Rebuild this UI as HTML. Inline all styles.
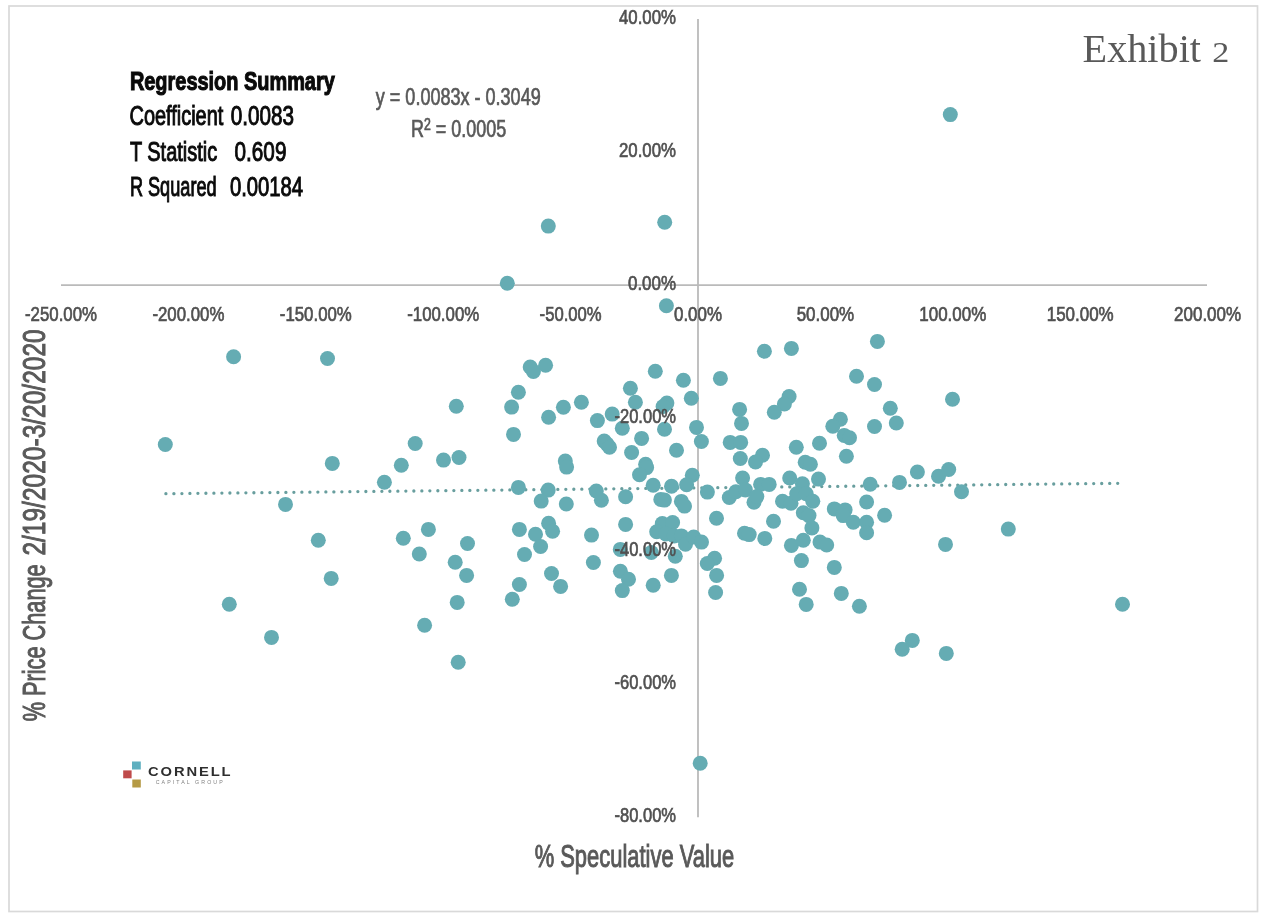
<!DOCTYPE html>
<html lang="en"><head><meta charset="utf-8"><title>Exhibit 2</title>
<style>html,body{margin:0;padding:0;background:#fff}body{width:1265px;height:922px;overflow:hidden}svg{display:block}text{font-family:"Liberation Sans",sans-serif}.ser{font-family:"Liberation Serif",serif}</style>
</head><body>
<svg width="1265" height="922" viewBox="0 0 1265 922">
<rect x="0" y="0" width="1265" height="922" fill="#fff"/>
<rect x="9" y="6" width="1248.5" height="905.5" fill="none" stroke="#d9d9d9" stroke-width="1.7"/>
<g stroke="#bababa" stroke-width="1.8" fill="none">
<line x1="61" y1="285.05" x2="1207" y2="285.05"/>
<line x1="698.0" y1="19" x2="698.0" y2="817.3"/>
</g>
<line x1="165.9" y1="493.7" x2="1117.8" y2="483.3" stroke="#689e9e" stroke-width="3.3" stroke-linecap="round" stroke-dasharray="0.01 7.9888"/>
<g fill="#65acb3">
<circle cx="507.3" cy="283.3" r="7.5"/>
<circle cx="548.3" cy="226.1" r="7.5"/>
<circle cx="664.7" cy="222.3" r="7.5"/>
<circle cx="666.4" cy="305.7" r="7.5"/>
<circle cx="950.3" cy="114.6" r="7.5"/>
<circle cx="233.6" cy="356.7" r="7.5"/>
<circle cx="327.5" cy="358.5" r="7.5"/>
<circle cx="456.3" cy="406.2" r="7.5"/>
<circle cx="165.3" cy="444.5" r="7.5"/>
<circle cx="415.2" cy="443.5" r="7.5"/>
<circle cx="332.3" cy="463.4" r="7.5"/>
<circle cx="401.3" cy="465.2" r="7.5"/>
<circle cx="443.5" cy="460.1" r="7.5"/>
<circle cx="459.0" cy="457.5" r="7.5"/>
<circle cx="384.4" cy="482.2" r="7.5"/>
<circle cx="285.5" cy="504.4" r="7.5"/>
<circle cx="428.4" cy="529.4" r="7.5"/>
<circle cx="318.3" cy="540.3" r="7.5"/>
<circle cx="403.3" cy="538.3" r="7.5"/>
<circle cx="419.3" cy="554.0" r="7.5"/>
<circle cx="455.2" cy="562.3" r="7.5"/>
<circle cx="466.6" cy="575.4" r="7.5"/>
<circle cx="331.2" cy="578.4" r="7.5"/>
<circle cx="229.3" cy="604.2" r="7.5"/>
<circle cx="457.2" cy="602.4" r="7.5"/>
<circle cx="424.6" cy="625.2" r="7.5"/>
<circle cx="271.5" cy="637.4" r="7.5"/>
<circle cx="458.2" cy="662.2" r="7.5"/>
<circle cx="467.5" cy="543.5" r="7.5"/>
<circle cx="530.2" cy="367.0" r="7.5"/>
<circle cx="533.4" cy="371.4" r="7.5"/>
<circle cx="545.6" cy="365.3" r="7.5"/>
<circle cx="518.4" cy="392.3" r="7.5"/>
<circle cx="511.6" cy="407.1" r="7.5"/>
<circle cx="513.5" cy="434.4" r="7.5"/>
<circle cx="548.6" cy="417.3" r="7.5"/>
<circle cx="563.4" cy="407.3" r="7.5"/>
<circle cx="581.4" cy="402.3" r="7.5"/>
<circle cx="655.3" cy="371.2" r="7.5"/>
<circle cx="683.4" cy="380.3" r="7.5"/>
<circle cx="630.4" cy="388.3" r="7.5"/>
<circle cx="635.4" cy="402.3" r="7.5"/>
<circle cx="666.9" cy="403.1" r="7.5"/>
<circle cx="663.1" cy="406.5" r="7.5"/>
<circle cx="612.2" cy="414.1" r="7.5"/>
<circle cx="597.4" cy="420.6" r="7.5"/>
<circle cx="622.3" cy="428.3" r="7.5"/>
<circle cx="664.5" cy="429.2" r="7.5"/>
<circle cx="641.6" cy="438.4" r="7.5"/>
<circle cx="604.2" cy="441.1" r="7.5"/>
<circle cx="607.0" cy="444.0" r="7.5"/>
<circle cx="609.5" cy="447.3" r="7.5"/>
<circle cx="631.6" cy="452.5" r="7.5"/>
<circle cx="676.5" cy="450.2" r="7.5"/>
<circle cx="565.3" cy="461.0" r="7.5"/>
<circle cx="566.6" cy="467.1" r="7.5"/>
<circle cx="645.6" cy="464.2" r="7.5"/>
<circle cx="646.6" cy="467.6" r="7.5"/>
<circle cx="639.5" cy="474.7" r="7.5"/>
<circle cx="518.4" cy="487.4" r="7.5"/>
<circle cx="548.2" cy="490.1" r="7.5"/>
<circle cx="541.2" cy="501.1" r="7.5"/>
<circle cx="566.3" cy="504.0" r="7.5"/>
<circle cx="596.3" cy="491.0" r="7.5"/>
<circle cx="601.4" cy="500.2" r="7.5"/>
<circle cx="625.6" cy="496.7" r="7.5"/>
<circle cx="653.2" cy="485.3" r="7.5"/>
<circle cx="671.5" cy="486.2" r="7.5"/>
<circle cx="660.8" cy="499.4" r="7.5"/>
<circle cx="664.4" cy="500.1" r="7.5"/>
<circle cx="681.4" cy="501.4" r="7.5"/>
<circle cx="684.5" cy="506.1" r="7.5"/>
<circle cx="519.4" cy="529.4" r="7.5"/>
<circle cx="535.5" cy="534.2" r="7.5"/>
<circle cx="540.6" cy="546.5" r="7.5"/>
<circle cx="524.5" cy="554.5" r="7.5"/>
<circle cx="548.6" cy="523.2" r="7.5"/>
<circle cx="552.6" cy="531.3" r="7.5"/>
<circle cx="591.5" cy="535.1" r="7.5"/>
<circle cx="625.6" cy="524.4" r="7.5"/>
<circle cx="593.4" cy="562.5" r="7.5"/>
<circle cx="551.5" cy="573.5" r="7.5"/>
<circle cx="560.6" cy="586.4" r="7.5"/>
<circle cx="519.4" cy="584.5" r="7.5"/>
<circle cx="512.3" cy="599.3" r="7.5"/>
<circle cx="620.4" cy="571.2" r="7.5"/>
<circle cx="628.5" cy="579.2" r="7.5"/>
<circle cx="622.3" cy="590.6" r="7.5"/>
<circle cx="653.2" cy="585.2" r="7.5"/>
<circle cx="671.4" cy="575.4" r="7.5"/>
<circle cx="675.3" cy="556.2" r="7.5"/>
<circle cx="620.3" cy="549.4" r="7.5"/>
<circle cx="651.3" cy="552.5" r="7.5"/>
<circle cx="662.3" cy="523.6" r="7.5"/>
<circle cx="672.6" cy="522.5" r="7.5"/>
<circle cx="656.7" cy="531.8" r="7.5"/>
<circle cx="665.9" cy="533.9" r="7.5"/>
<circle cx="674.2" cy="535.9" r="7.5"/>
<circle cx="681.4" cy="535.9" r="7.5"/>
<circle cx="685.5" cy="544.2" r="7.5"/>
<circle cx="693.7" cy="537.0" r="7.5"/>
<circle cx="701.5" cy="542.1" r="7.5"/>
<circle cx="691.3" cy="398.3" r="7.5"/>
<circle cx="696.5" cy="427.4" r="7.5"/>
<circle cx="701.4" cy="441.5" r="7.5"/>
<circle cx="720.4" cy="378.4" r="7.5"/>
<circle cx="764.4" cy="351.3" r="7.5"/>
<circle cx="791.4" cy="348.4" r="7.5"/>
<circle cx="877.4" cy="341.4" r="7.5"/>
<circle cx="856.5" cy="376.3" r="7.5"/>
<circle cx="874.5" cy="384.5" r="7.5"/>
<circle cx="890.3" cy="408.2" r="7.5"/>
<circle cx="896.3" cy="423.0" r="7.5"/>
<circle cx="874.5" cy="426.5" r="7.5"/>
<circle cx="789.1" cy="396.5" r="7.5"/>
<circle cx="784.4" cy="404.0" r="7.5"/>
<circle cx="774.3" cy="412.2" r="7.5"/>
<circle cx="739.6" cy="409.4" r="7.5"/>
<circle cx="741.5" cy="423.4" r="7.5"/>
<circle cx="730.2" cy="442.4" r="7.5"/>
<circle cx="740.7" cy="442.4" r="7.5"/>
<circle cx="740.3" cy="458.5" r="7.5"/>
<circle cx="762.5" cy="455.3" r="7.5"/>
<circle cx="755.5" cy="462.0" r="7.5"/>
<circle cx="796.3" cy="447.3" r="7.5"/>
<circle cx="819.5" cy="443.3" r="7.5"/>
<circle cx="840.4" cy="419.2" r="7.5"/>
<circle cx="832.8" cy="426.3" r="7.5"/>
<circle cx="844.2" cy="435.4" r="7.5"/>
<circle cx="849.5" cy="437.7" r="7.5"/>
<circle cx="846.4" cy="456.3" r="7.5"/>
<circle cx="805.2" cy="462.3" r="7.5"/>
<circle cx="810.4" cy="464.2" r="7.5"/>
<circle cx="692.3" cy="475.2" r="7.5"/>
<circle cx="686.6" cy="484.8" r="7.5"/>
<circle cx="707.4" cy="492.1" r="7.5"/>
<circle cx="742.6" cy="478.0" r="7.5"/>
<circle cx="789.7" cy="478.0" r="7.5"/>
<circle cx="818.5" cy="479.1" r="7.5"/>
<circle cx="802.4" cy="483.7" r="7.5"/>
<circle cx="760.6" cy="484.4" r="7.5"/>
<circle cx="769.2" cy="484.4" r="7.5"/>
<circle cx="870.2" cy="484.2" r="7.5"/>
<circle cx="899.5" cy="482.4" r="7.5"/>
<circle cx="866.6" cy="502.0" r="7.5"/>
<circle cx="729.3" cy="497.5" r="7.5"/>
<circle cx="735.9" cy="491.8" r="7.5"/>
<circle cx="745.4" cy="489.9" r="7.5"/>
<circle cx="754.0" cy="502.3" r="7.5"/>
<circle cx="756.8" cy="496.6" r="7.5"/>
<circle cx="782.5" cy="501.3" r="7.5"/>
<circle cx="791.0" cy="503.2" r="7.5"/>
<circle cx="796.7" cy="493.7" r="7.5"/>
<circle cx="806.2" cy="493.7" r="7.5"/>
<circle cx="812.8" cy="501.3" r="7.5"/>
<circle cx="803.3" cy="512.7" r="7.5"/>
<circle cx="809.0" cy="515.6" r="7.5"/>
<circle cx="811.9" cy="527.9" r="7.5"/>
<circle cx="716.5" cy="518.3" r="7.5"/>
<circle cx="773.5" cy="521.3" r="7.5"/>
<circle cx="744.5" cy="533.2" r="7.5"/>
<circle cx="749.2" cy="534.6" r="7.5"/>
<circle cx="764.8" cy="538.4" r="7.5"/>
<circle cx="791.4" cy="545.4" r="7.5"/>
<circle cx="803.3" cy="540.2" r="7.5"/>
<circle cx="820.0" cy="542.1" r="7.5"/>
<circle cx="826.7" cy="545.0" r="7.5"/>
<circle cx="801.4" cy="560.6" r="7.5"/>
<circle cx="834.3" cy="567.4" r="7.5"/>
<circle cx="799.5" cy="589.2" r="7.5"/>
<circle cx="806.2" cy="604.4" r="7.5"/>
<circle cx="841.3" cy="593.4" r="7.5"/>
<circle cx="859.4" cy="606.3" r="7.5"/>
<circle cx="714.6" cy="558.2" r="7.5"/>
<circle cx="707.3" cy="563.5" r="7.5"/>
<circle cx="716.6" cy="575.4" r="7.5"/>
<circle cx="715.6" cy="592.5" r="7.5"/>
<circle cx="834.3" cy="508.9" r="7.5"/>
<circle cx="845.1" cy="509.9" r="7.5"/>
<circle cx="843.2" cy="515.6" r="7.5"/>
<circle cx="853.3" cy="522.2" r="7.5"/>
<circle cx="884.6" cy="515.2" r="7.5"/>
<circle cx="866.6" cy="522.2" r="7.5"/>
<circle cx="866.6" cy="532.7" r="7.5"/>
<circle cx="952.5" cy="399.3" r="7.5"/>
<circle cx="917.4" cy="472.0" r="7.5"/>
<circle cx="938.5" cy="476.2" r="7.5"/>
<circle cx="948.7" cy="469.5" r="7.5"/>
<circle cx="961.5" cy="491.7" r="7.5"/>
<circle cx="1008.3" cy="529.1" r="7.5"/>
<circle cx="945.5" cy="544.4" r="7.5"/>
<circle cx="1122.5" cy="604.3" r="7.5"/>
<circle cx="912.3" cy="640.4" r="7.5"/>
<circle cx="902.2" cy="649.2" r="7.5"/>
<circle cx="946.3" cy="653.4" r="7.5"/>
<circle cx="700.2" cy="763.2" r="7.5"/>
</g>
<g fill="#505050" stroke="#505050" stroke-width="0.7" font-size="20.8">
<text x="61.0" y="321.4" text-anchor="middle" textLength="72.0" lengthAdjust="spacingAndGlyphs">-250.00%</text>
<text x="188.4" y="321.4" text-anchor="middle" textLength="72.0" lengthAdjust="spacingAndGlyphs">-200.00%</text>
<text x="315.8" y="321.4" text-anchor="middle" textLength="72.0" lengthAdjust="spacingAndGlyphs">-150.00%</text>
<text x="443.2" y="321.4" text-anchor="middle" textLength="72.0" lengthAdjust="spacingAndGlyphs">-100.00%</text>
<text x="570.6" y="321.4" text-anchor="middle" textLength="62.0" lengthAdjust="spacingAndGlyphs">-50.00%</text>
<text x="698.0" y="321.4" text-anchor="middle" textLength="48.0" lengthAdjust="spacingAndGlyphs">0.00%</text>
<text x="825.4" y="321.4" text-anchor="middle" textLength="57.5" lengthAdjust="spacingAndGlyphs">50.00%</text>
<text x="952.8" y="321.4" text-anchor="middle" textLength="67.0" lengthAdjust="spacingAndGlyphs">100.00%</text>
<text x="1080.2" y="321.4" text-anchor="middle" textLength="67.0" lengthAdjust="spacingAndGlyphs">150.00%</text>
<text x="1207.6" y="321.4" text-anchor="middle" textLength="67.0" lengthAdjust="spacingAndGlyphs">200.00%</text>
<text x="676" y="24.1" text-anchor="end" textLength="57.0" lengthAdjust="spacingAndGlyphs">40.00%</text>
<text x="676" y="157.1" text-anchor="end" textLength="57.0" lengthAdjust="spacingAndGlyphs">20.00%</text>
<text x="676" y="290.1" text-anchor="end" textLength="48.0" lengthAdjust="spacingAndGlyphs">0.00%</text>
<text x="676" y="423.1" text-anchor="end" textLength="61.5" lengthAdjust="spacingAndGlyphs">-20.00%</text>
<text x="676" y="556.1" text-anchor="end" textLength="61.5" lengthAdjust="spacingAndGlyphs">-40.00%</text>
<text x="676" y="689.1" text-anchor="end" textLength="61.5" lengthAdjust="spacingAndGlyphs">-60.00%</text>
<text x="676" y="822.1" text-anchor="end" textLength="61.5" lengthAdjust="spacingAndGlyphs">-80.00%</text>
</g>
<text x="634.4" y="867" fill="#595959" stroke="#595959" stroke-width="1" font-size="31" text-anchor="middle" textLength="199.5" lengthAdjust="spacingAndGlyphs">% Speculative Value</text>
<g transform="translate(45,0) rotate(-90)" fill="#595959" stroke="#595959" stroke-width="1" font-size="30.5"><text x="-721.3" y="0" textLength="157" lengthAdjust="spacingAndGlyphs">% Price Change</text><text x="-555.6" y="0" textLength="226.3" lengthAdjust="spacingAndGlyphs">2/19/2020-3/20/2020</text></g>
<g fill="#0a0a0a" stroke="#0a0a0a" stroke-width="1" font-size="26.8">
<text x="129.9" y="90.1" font-weight="bold" font-size="26" stroke-width="1.1" textLength="204.9" lengthAdjust="spacingAndGlyphs">Regression Summary</text>
<text x="129.5" y="124.8" textLength="93.8" lengthAdjust="spacingAndGlyphs">Coefficient</text>
<text x="230.8" y="124.8" textLength="63.2" lengthAdjust="spacingAndGlyphs">0.0083</text>
<text x="129.9" y="160.5" textLength="87.3" lengthAdjust="spacingAndGlyphs">T Statistic</text>
<text x="234.6" y="160.5" textLength="51.8" lengthAdjust="spacingAndGlyphs">0.609</text>
<text x="129.9" y="196.3" textLength="86.7" lengthAdjust="spacingAndGlyphs">R Squared</text>
<text x="229.9" y="196.3" textLength="73.2" lengthAdjust="spacingAndGlyphs">0.00184</text>
</g>
<g fill="#595959" stroke="#595959" stroke-width="0.7" font-size="23.4">
<text x="375.8" y="105.4" textLength="164.9" lengthAdjust="spacingAndGlyphs">y = 0.0083x - 0.3049</text>
<text x="410.9" y="137" textLength="95.3" lengthAdjust="spacingAndGlyphs">R<tspan font-size="16" dy="-7.5">2</tspan><tspan dy="7.5"> = 0.0005</tspan></text>
</g>
<g class="ser" fill="#595959"><text class="ser" x="1082.6" y="62" font-size="40.5" textLength="118.4" lengthAdjust="spacingAndGlyphs">Exhibit</text><text class="ser" x="1212.3" y="62" font-size="29" textLength="17" lengthAdjust="spacingAndGlyphs">2</text></g>
<g>
<rect x="132" y="761.5" width="8.8" height="8" fill="#5fb0c0"/>
<rect x="123.2" y="770.4" width="8.4" height="7.9" fill="#bf4a4a"/>
<rect x="132.3" y="779.5" width="8.5" height="8" fill="#b59a45"/>
<text transform="translate(148.1,775.8) scale(1.17,1)" fill="#2e2e2e" font-size="12.6" font-weight="bold" letter-spacing="1.6">CORNELL</text>
<text transform="translate(155.7,783.8) scale(1.15,1)" fill="#808080" font-size="4.6" letter-spacing="1.8">CAPITAL GROUP</text>
</g>
</svg>
</body></html>
